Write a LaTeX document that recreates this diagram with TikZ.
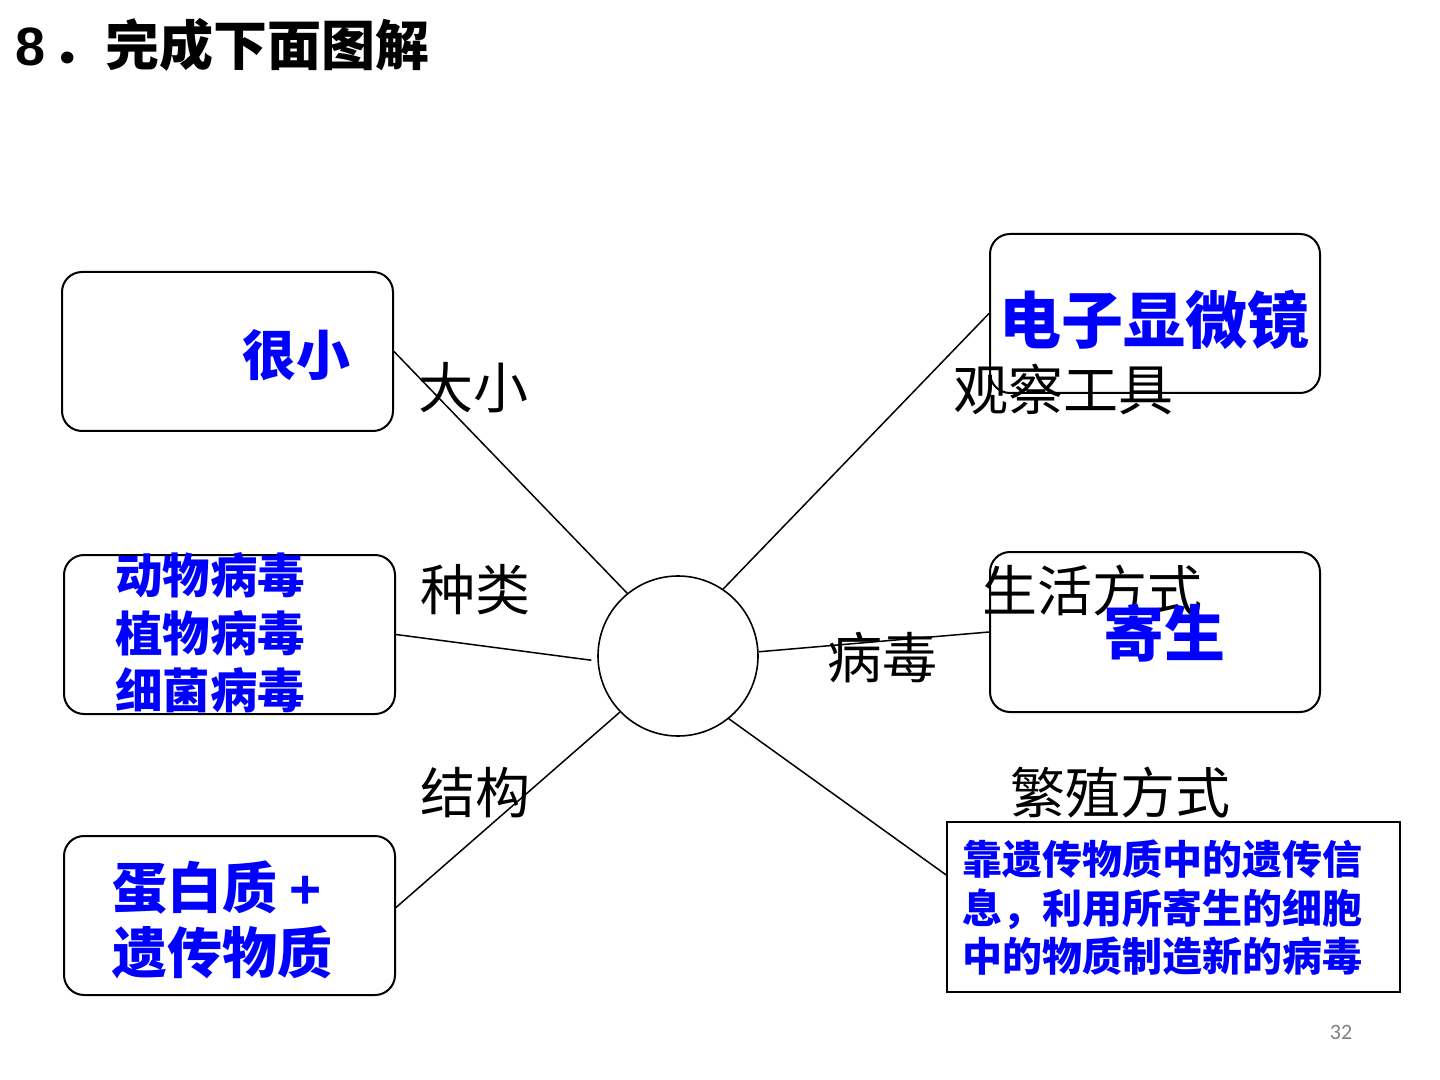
\documentclass[tikz,border=0pt]{standalone}
\usepackage{fontspec}
\setmainfont{Noto Sans CJK SC}
\newfontfamily\latinb{Liberation Sans}
\newfontfamily\calib{Carlito}
\begin{document}
\begin{tikzpicture}[x=0.5pt,y=-0.5pt,
  rbox/.style={draw, line width=1pt, rounded corners=10pt, minimum width=165.5pt, minimum height=79.5pt, inner sep=0pt},
  lbl/.style={inner sep=0pt, font=\fontsize{27.5}{33}\selectfont},
  blu/.style={inner sep=0pt, text=blue, font=\bfseries},
  conn/.style={line width=0.75pt}]
\useasboundingbox (0,0) rectangle (1440,1080);
\fill[white] (0,0) rectangle (1440,1080);
% title
\node[anchor=west, inner sep=0pt, font=\fontsize{27}{32}\selectfont\bfseries] (title) at (15,45) {{\latinb\bfseries 8}\hspace{3pt}．完成下面图解};
% boxes
\node[rbox] (b1) at (227.5,351.5) {};
\node[rbox] (b2) at (229.5,634.5) {};
\node[rbox] (b3) at (229.5,915.5) {};
\node[rbox, minimum width=165pt] (b4) at (1155,313.5) {};
\node[rbox, minimum width=165pt, minimum height=80pt] (b5) at (1155,632) {};
\node[draw, line width=0.8pt, minimum width=226.5pt, minimum height=85pt, inner sep=0pt] (b6) at (1173.5,907) {};
% circle
\node[draw, circle, line width=0.8pt, minimum size=80pt, inner sep=0pt] (c) at (678,656) {};
% connectors
\draw[conn] (b1.east) -- (c.129);
\draw[conn] (b2.east) -- ([xshift=-3pt]c.183);
\draw[conn] ([yshift=4pt]b3.east) -- (c.224);
\draw[conn] (c.56) -- (b4.west);
\draw[conn] (c.3) -- (b5.west);
\draw[conn] (c.-51) -- ([yshift=16pt]b6.west);
% black labels
\node[lbl] (l1) at (473,388) {大小};
\node[lbl] (l2) at (475,590) {种类};
\node[lbl] (l3) at (475,793) {结构};
\node[lbl] (l4) at (1063,390) {观察工具};
\node[lbl] (l5) at (1092,590) {生活方式};
\node[lbl] (l6) at (882,658) {病毒};
\node[lbl] (l7) at (1120,793) {繁殖方式};
% blue texts
\node[blu, font=\fontsize{27}{32}\selectfont\bfseries] (t1) at (296,355) {很小};
\node[blu, anchor=west, align=left, font=\fontsize{23.75}{28.75}\selectfont\bfseries] (t2) at (115,633) {动物病毒\\植物病毒\\细菌病毒};
\node[blu, anchor=west, align=left, font=\fontsize{27.5}{32.5}\selectfont\bfseries] (t3) at (112,919.5) {蛋白质 {\latinb\bfseries +}\\遗传物质};
\node[blu, font=\fontsize{31}{36}\selectfont\bfseries] (t4) at (1154,320) {电子显微镜};
\node[blu, font=\fontsize{30.5}{36}\selectfont\bfseries] (t5) at (1164,633) {寄生};
\node[blu, anchor=west, align=left, font=\fontsize{20}{24.25}\selectfont\bfseries] (t6) at (962,908) {靠遗传物质中的遗传信\\息，利用所寄生的细胞\\中的物质制造新的病毒};
% page number
\node[inner sep=0pt, text=black!50, font=\calib\fontsize{11}{13}\selectfont] (pg) at (1341,1032) {32};
\end{tikzpicture}
\end{document}
